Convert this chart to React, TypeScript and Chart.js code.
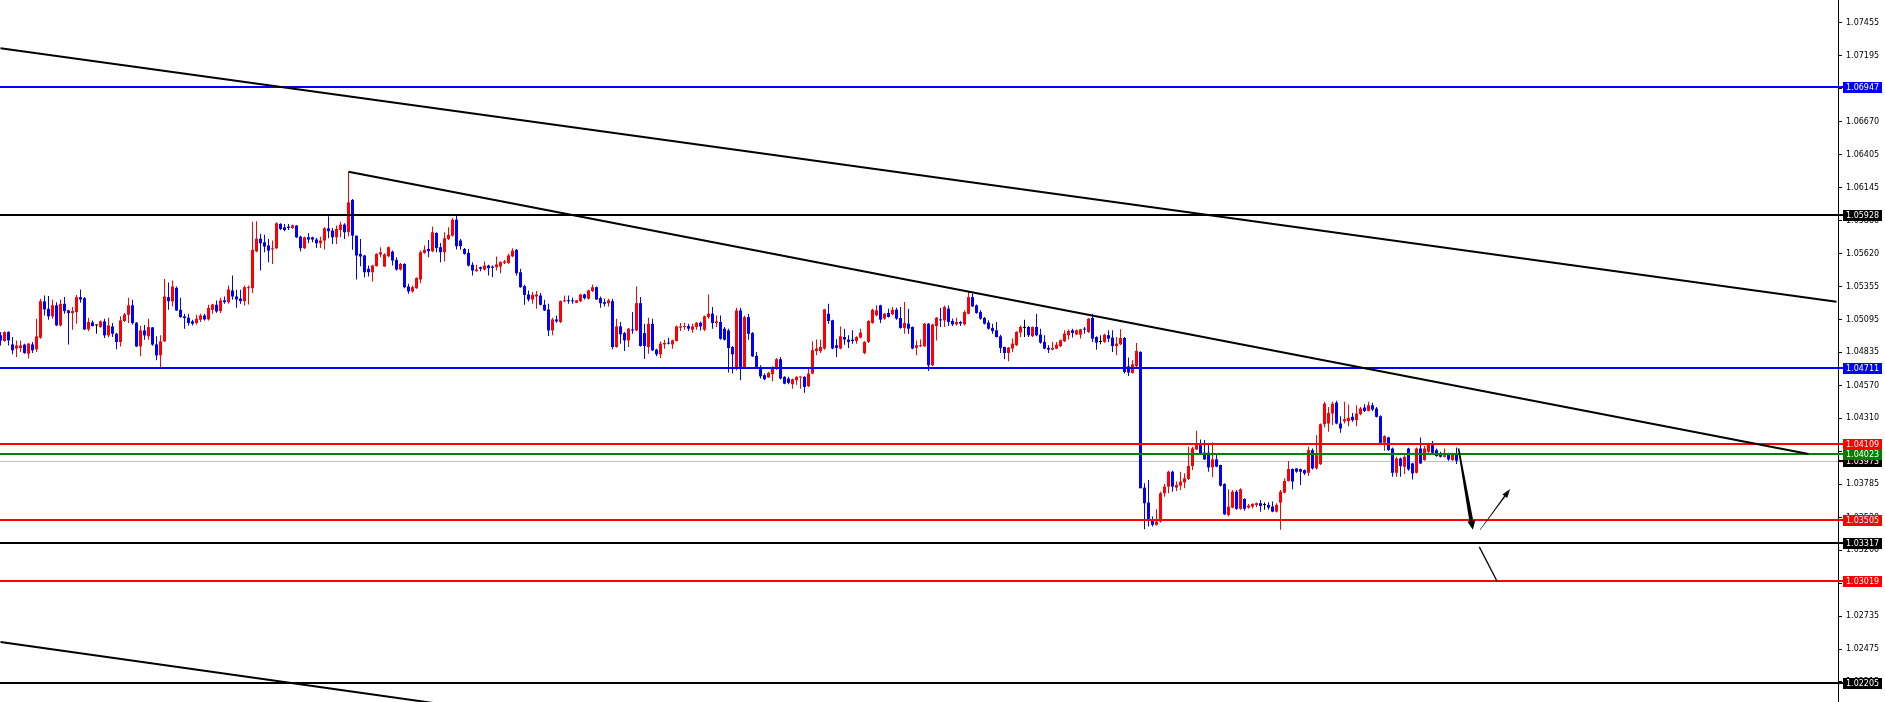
import React, { useEffect, useRef } from 'react';
import { Chart, registerables } from 'chart.js';

Chart.register(...registerables);

// ---- candle data (index 0..364) ----
const OPEN = [
  1.04970,1.04925,1.04996,1.04898,1.04864,1.04869,1.04896,1.04824,1.04898,1.04859,
  1.04951,1.05240,1.05181,1.05121,1.05209,1.05049,1.05221,1.05168,1.05147,1.05155,
  1.05274,1.05266,1.05017,1.05073,1.05049,1.05036,1.05081,1.04970,1.05041,1.04983,
  1.04917,1.05084,1.05134,1.05209,1.05070,1.04882,1.05009,1.04962,1.05033,1.04898,
  1.04811,1.04922,1.05274,1.05240,1.05348,1.05173,1.05121,1.05110,1.05081,1.05068,
  1.05094,1.05128,1.05097,1.05173,1.05213,1.05163,1.05248,1.05234,1.05327,1.05279,
  1.05263,1.05242,1.05345,1.05345,1.05639,1.05739,1.05710,1.05684,1.05655,1.05663,
  1.05856,1.05829,1.05835,1.05824,1.05843,1.05755,1.05663,1.05750,1.05750,1.05732,
  1.05702,1.05724,1.05821,1.05803,1.05750,1.05808,1.05851,1.05790,1.06047,1.05763,
  1.05618,1.05605,1.05499,1.05472,1.05520,1.05613,1.05517,1.05599,1.05636,1.05570,
  1.05493,1.05538,1.05359,1.05319,1.05345,1.05414,1.05626,1.05657,1.05639,1.05784,
  1.05671,1.05631,1.05737,1.05763,1.05890,1.05724,1.05657,1.05626,1.05531,1.05480,
  1.05512,1.05493,1.05525,1.05517,1.05512,1.05517,1.05544,1.05546,1.05599,1.05650,
  1.05472,1.05361,1.05295,1.05255,1.05279,1.05287,1.05213,1.05176,1.05009,1.05097,
  1.05076,1.05240,1.05248,1.05248,1.05229,1.05242,1.05295,1.05261,1.05322,1.05353,
  1.05266,1.05234,1.05226,1.05242,1.04877,1.05041,1.04988,1.04930,1.05017,1.05009,
  1.05226,1.04988,1.04877,1.05062,1.04856,1.04819,1.04898,1.04909,1.04898,1.04925,
  1.05031,1.05036,1.05044,1.05015,1.05036,1.05070,1.05015,1.05115,1.05142,1.05068,
  1.05076,1.05023,1.05009,1.04877,1.04705,1.05168,1.04719,1.05115,1.04988,1.04806,
  1.04719,1.04653,1.04635,1.04661,1.04705,1.04780,1.04640,1.04627,1.04581,1.04613,
  1.04635,1.04640,1.04566,1.04666,1.04846,1.04844,1.04865,1.05142,1.05090,1.04891,
  1.04865,1.04957,1.04936,1.04936,1.04925,1.04952,1.04830,1.04918,1.05068,1.05129,
  1.05209,1.05103,1.05148,1.05137,1.05174,1.05108,1.05029,1.05063,1.05037,1.04870,
  1.04883,1.04883,1.05063,1.04732,1.05044,1.05095,1.05089,1.05182,1.05084,1.05057,
  1.05076,1.05057,1.05142,1.05274,1.05208,1.05155,1.05108,1.05071,1.05029,1.05010,
  1.04962,1.04878,1.04830,1.04865,1.04891,1.04992,1.05029,1.05037,1.04963,1.05037,
  1.04976,1.04918,1.04870,1.04857,1.04865,1.04883,1.04923,1.04971,1.05010,1.04978,
  1.04975,1.05023,1.04997,1.05108,1.04957,1.04918,1.04918,1.04971,1.04952,1.04885,
  1.04899,1.04949,1.04724,1.04671,1.04724,1.04838,1.03759,1.03640,1.03508,1.03463,
  1.03489,1.03714,1.03767,1.03886,1.03759,1.03775,1.03801,1.03828,1.03931,1.04063,
  1.04097,1.04037,1.04037,1.03920,1.03984,1.03939,1.03788,1.03542,1.03600,1.03727,
  1.03590,1.03669,1.03600,1.03608,1.03621,1.03635,1.03621,1.03621,1.03608,1.03568,
  1.03640,1.03719,1.03812,1.03907,1.03912,1.03906,1.03898,1.03877,1.04057,1.03912,
  1.03946,1.04263,1.04269,1.04348,1.04435,1.04269,1.04287,1.04287,1.04322,1.04295,
  1.04343,1.04396,1.04369,1.04414,1.04388,1.04327,1.04115,1.04158,1.04070,1.03877,
  1.03991,1.03925,1.04070,1.03951,1.03877,1.04070,1.03978,1.04044,1.04097,1.04057,
  1.04025,1.04004,1.04031,1.03978,1.04025,
];
const HIGH = [
  1.04996,1.05002,1.05002,1.04957,1.04930,1.04930,1.04904,1.04909,1.04917,1.05102,
  1.05261,1.05287,1.05282,1.05253,1.05234,1.05255,1.05274,1.05173,1.05195,1.05290,
  1.05335,1.05274,1.05110,1.05089,1.05057,1.05089,1.05102,1.05110,1.05068,1.04991,
  1.05121,1.05147,1.05269,1.05253,1.05076,1.05046,1.05052,1.05102,1.05036,1.04962,
  1.04970,1.05419,1.05390,1.05406,1.05359,1.05269,1.05142,1.05142,1.05094,1.05134,
  1.05142,1.05142,1.05213,1.05221,1.05248,1.05269,1.05279,1.05366,1.05446,1.05332,
  1.05332,1.05366,1.05366,1.05874,1.05877,1.05777,1.05771,1.05737,1.05724,1.05869,
  1.05861,1.05856,1.05856,1.05851,1.05848,1.05763,1.05755,1.05784,1.05755,1.05745,
  1.05755,1.05829,1.05917,1.05824,1.05843,1.05874,1.05861,1.06271,1.06055,1.05763,
  1.05737,1.05610,1.05525,1.05531,1.05623,1.05671,1.05623,1.05676,1.05644,1.05591,
  1.05546,1.05544,1.05380,1.05366,1.05433,1.05644,1.05684,1.05729,1.05835,1.05790,
  1.05705,1.05790,1.05829,1.05903,1.05922,1.05737,1.05665,1.05657,1.05552,1.05531,
  1.05517,1.05557,1.05531,1.05525,1.05597,1.05560,1.05570,1.05618,1.05663,1.05657,
  1.05499,1.05372,1.05327,1.05314,1.05322,1.05306,1.05253,1.05221,1.05110,1.05128,
  1.05248,1.05287,1.05287,1.05269,1.05250,1.05300,1.05300,1.05332,1.05374,1.05359,
  1.05279,1.05261,1.05261,1.05261,1.05102,1.05076,1.04996,1.05028,1.05155,1.05359,
  1.05274,1.05062,1.05110,1.05102,1.04864,1.04922,1.04935,1.04951,1.04935,1.05049,
  1.05068,1.05070,1.05062,1.05062,1.05076,1.05081,1.05128,1.05295,1.05195,1.05128,
  1.05128,1.05036,1.05023,1.04885,1.05189,1.05189,1.05128,1.05142,1.04996,1.04838,
  1.04732,1.04666,1.04680,1.04724,1.04790,1.04798,1.04645,1.04640,1.04627,1.04645,
  1.04642,1.04645,1.04705,1.04923,1.04936,1.04936,1.05182,1.05222,1.05095,1.04938,
  1.05041,1.05023,1.04971,1.05010,1.04963,1.05023,1.04923,1.05090,1.05182,1.05209,
  1.05214,1.05148,1.05182,1.05195,1.05190,1.05195,1.05235,1.05182,1.05041,1.04930,
  1.04936,1.05068,1.05068,1.05063,1.05116,1.05187,1.05208,1.05208,1.05103,1.05110,
  1.05084,1.05169,1.05322,1.05301,1.05216,1.05169,1.05116,1.05090,1.05063,1.05076,
  1.04975,1.04880,1.04878,1.04944,1.05002,1.05049,1.05094,1.05044,1.05041,1.05142,
  1.05023,1.04971,1.04891,1.04918,1.04918,1.04936,1.05010,1.05016,1.05023,1.05016,
  1.05023,1.05037,1.05108,1.05142,1.04963,1.04971,1.04983,1.05010,1.05010,1.04957,
  1.05018,1.04957,1.04793,1.04772,1.04909,1.04843,1.03793,1.03820,1.03529,1.03587,
  1.03727,1.03788,1.03894,1.03894,1.03807,1.03886,1.03873,1.04084,1.04084,1.04211,
  1.04142,1.04137,1.04097,1.04119,1.04031,1.03941,1.03793,1.03746,1.03740,1.03740,
  1.03754,1.03674,1.03629,1.03635,1.03640,1.03661,1.03640,1.03643,1.03648,1.03635,
  1.03740,1.03833,1.03971,1.03912,1.03912,1.03912,1.03904,1.04084,1.04070,1.04176,
  1.04269,1.04441,1.04401,1.04441,1.04449,1.04327,1.04441,1.04420,1.04353,1.04414,
  1.04401,1.04422,1.04441,1.04433,1.04401,1.04335,1.04176,1.04163,1.04078,1.04004,
  1.03999,1.04017,1.04076,1.03957,1.04078,1.04158,1.04089,1.04115,1.04129,1.04070,
  1.04044,1.04070,1.04036,1.04036,1.04078,
];
const LOW = [
  1.04890,1.04920,1.04890,1.04819,1.04798,1.04838,1.04824,1.04785,1.04830,1.04838,
  1.04943,1.05128,1.05094,1.05102,1.05044,1.05041,1.05142,1.04898,1.05015,1.05062,
  1.05229,1.05012,1.05002,1.05041,1.04983,1.05031,1.04949,1.04957,1.04957,1.04859,
  1.04882,1.05076,1.05068,1.05057,1.04877,1.04803,1.04935,1.04935,1.04888,1.04771,
  1.04719,1.04917,1.05173,1.05200,1.05163,1.05110,1.05023,1.05049,1.05049,1.05057,
  1.05076,1.05089,1.05089,1.05142,1.05150,1.05147,1.05221,1.05221,1.05253,1.05189,
  1.05221,1.05208,1.05216,1.05306,1.05631,1.05486,1.05631,1.05552,1.05538,1.05657,
  1.05808,1.05798,1.05808,1.05816,1.05745,1.05636,1.05657,1.05702,1.05710,1.05665,
  1.05665,1.05652,1.05742,1.05697,1.05697,1.05750,1.05737,1.05756,1.05650,1.05414,
  1.05520,1.05433,1.05438,1.05398,1.05517,1.05591,1.05515,1.05591,1.05525,1.05486,
  1.05486,1.05345,1.05300,1.05308,1.05340,1.05385,1.05618,1.05591,1.05631,1.05631,
  1.05552,1.05557,1.05729,1.05755,1.05652,1.05650,1.05610,1.05517,1.05446,1.05478,
  1.05480,1.05486,1.05446,1.05433,1.05486,1.05464,1.05538,1.05538,1.05591,1.05446,
  1.05348,1.05213,1.05240,1.05221,1.05181,1.05208,1.05163,1.04965,1.04970,1.05070,
  1.05068,1.05234,1.05221,1.05221,1.05227,1.05234,1.05255,1.05255,1.05314,1.05253,
  1.05189,1.05200,1.05200,1.04859,1.04872,1.04904,1.04845,1.04877,1.04983,1.05002,
  1.04882,1.04782,1.04824,1.04845,1.04803,1.04790,1.04864,1.04898,1.04864,1.04922,
  1.05004,1.05015,1.05004,1.04991,1.05015,1.05009,1.05004,1.05102,1.05023,1.05036,
  1.04935,1.04930,1.04674,1.04666,1.04692,1.04613,1.04705,1.04935,1.04798,1.04705,
  1.04626,1.04612,1.04632,1.04605,1.04697,1.04619,1.04581,1.04581,1.04546,1.04578,
  1.04546,1.04513,1.04560,1.04661,1.04812,1.04830,1.04856,1.05063,1.04859,1.04798,
  1.04859,1.04896,1.04870,1.04904,1.04904,1.04944,1.04819,1.04910,1.05063,1.05121,
  1.05068,1.05095,1.05111,1.05129,1.05095,1.05023,1.04983,1.04983,1.04859,1.04812,
  1.04878,1.04878,1.04687,1.04727,1.04930,1.05037,1.05037,1.05044,1.05044,1.05049,
  1.05044,1.05049,1.05137,1.05195,1.05142,1.05095,1.05057,1.05015,1.04983,1.04952,
  1.04830,1.04780,1.04764,1.04838,1.04885,1.04957,1.04957,1.04957,1.04957,1.04963,
  1.04904,1.04859,1.04830,1.04852,1.04859,1.04878,1.04918,1.04936,1.04952,1.04971,
  1.04944,1.04983,1.04989,1.04918,1.04856,1.04899,1.04910,1.04918,1.04838,1.04811,
  1.04891,1.04666,1.04647,1.04666,1.04713,1.03754,1.03428,1.03449,1.03449,1.03457,
  1.03481,1.03687,1.03714,1.03727,1.03732,1.03740,1.03754,1.03820,1.03899,1.04058,
  1.04026,1.03978,1.03886,1.03841,1.03920,1.03767,1.03542,1.03529,1.03595,1.03582,
  1.03582,1.03576,1.03590,1.03595,1.03603,1.03568,1.03582,1.03582,1.03563,1.03561,
  1.03423,1.03714,1.03807,1.03746,1.03878,1.03779,1.03859,1.03851,1.03904,1.03904,
  1.03938,1.04237,1.04203,1.04256,1.04263,1.04195,1.04269,1.04248,1.04282,1.04248,
  1.04335,1.04361,1.04367,1.04369,1.04316,1.04105,1.04052,1.04052,1.03846,1.03846,
  1.03846,1.03867,1.03893,1.03824,1.03872,1.03946,1.03973,1.04031,1.04025,1.04004,
  1.03999,1.03999,1.03973,1.03973,1.03946,
];
const CLOSE = [
  1.04930,1.04996,1.04930,1.04851,1.04890,1.04890,1.04830,1.04904,1.04851,1.04962,
  1.05242,1.05176,1.05121,1.05209,1.05049,1.05221,1.05163,1.05147,1.05163,1.05274,
  1.05255,1.05017,1.05076,1.05044,1.05049,1.05081,1.04970,1.05049,1.04983,1.04917,
  1.05089,1.05136,1.05209,1.05068,1.04882,1.05009,1.04970,1.05036,1.04896,1.04811,
  1.04922,1.05279,1.05242,1.05359,1.05168,1.05115,1.05107,1.05068,1.05062,1.05102,
  1.05128,1.05097,1.05187,1.05216,1.05160,1.05248,1.05234,1.05335,1.05279,1.05255,
  1.05242,1.05353,1.05353,1.05650,1.05739,1.05702,1.05676,1.05644,1.05663,1.05861,
  1.05816,1.05808,1.05824,1.05845,1.05750,1.05663,1.05750,1.05732,1.05732,1.05702,
  1.05724,1.05821,1.05798,1.05750,1.05816,1.05851,1.05790,1.06028,1.05763,1.05605,
  1.05597,1.05472,1.05472,1.05525,1.05618,1.05631,1.05613,1.05671,1.05565,1.05493,
  1.05538,1.05353,1.05319,1.05353,1.05425,1.05631,1.05650,1.05639,1.05790,1.05665,
  1.05631,1.05742,1.05769,1.05890,1.05679,1.05679,1.05618,1.05525,1.05486,1.05493,
  1.05499,1.05525,1.05504,1.05507,1.05533,1.05552,1.05557,1.05605,1.05644,1.05464,
  1.05353,1.05292,1.05255,1.05292,1.05295,1.05213,1.05168,1.05009,1.05097,1.05081,
  1.05242,1.05248,1.05242,1.05240,1.05248,1.05295,1.05266,1.05327,1.05353,1.05255,
  1.05226,1.05221,1.05248,1.04877,1.05041,1.04978,1.04930,1.05023,1.05009,1.05226,
  1.04885,1.04885,1.05062,1.04851,1.04819,1.04904,1.04909,1.04904,1.04930,1.05041,
  1.05041,1.05041,1.05023,1.05041,1.05070,1.05041,1.05121,1.05142,1.05068,1.05081,
  1.04943,1.04935,1.04869,1.04819,1.05168,1.04719,1.05115,1.04983,1.04803,1.04719,
  1.04644,1.04621,1.04671,1.04713,1.04780,1.04627,1.04586,1.04592,1.04621,1.04640,
  1.04640,1.04560,1.04666,1.04852,1.04865,1.04878,1.05176,1.05084,1.04865,1.04870,
  1.04963,1.04936,1.04918,1.04925,1.04957,1.04992,1.04918,1.05084,1.05174,1.05169,
  1.05095,1.05142,1.05116,1.05174,1.05103,1.05029,1.05068,1.05023,1.04865,1.04891,
  1.04891,1.05063,1.04732,1.05055,1.05110,1.05089,1.05195,1.05076,1.05057,1.05076,
  1.05063,1.05155,1.05274,1.05200,1.05148,1.05103,1.05063,1.05023,1.05005,1.04957,
  1.04870,1.04830,1.04872,1.04904,1.04997,1.05037,1.05029,1.04971,1.05037,1.04971,
  1.04912,1.04865,1.04857,1.04870,1.04896,1.04931,1.04984,1.05005,1.04989,1.05010,
  1.05018,1.05016,1.05102,1.04944,1.04912,1.04918,1.04975,1.04944,1.04885,1.04904,
  1.04949,1.04679,1.04674,1.04740,1.04846,1.03754,1.03635,1.03508,1.03463,1.03489,
  1.03714,1.03767,1.03886,1.03767,1.03780,1.03807,1.03833,1.03931,1.04071,1.04097,
  1.04031,1.03984,1.03920,1.03984,1.03926,1.03775,1.03547,1.03608,1.03727,1.03590,
  1.03746,1.03590,1.03616,1.03629,1.03635,1.03613,1.03621,1.03600,1.03568,1.03621,
  1.03727,1.03812,1.03907,1.03807,1.03886,1.03885,1.03872,1.04057,1.03912,1.04017,
  1.04263,1.04427,1.04353,1.04427,1.04269,1.04229,1.04303,1.04314,1.04295,1.04348,
  1.04388,1.04369,1.04414,1.04380,1.04322,1.04115,1.04168,1.04057,1.03877,1.03991,
  1.03930,1.04004,1.03904,1.03872,1.04070,1.03951,1.04070,1.04105,1.04036,1.04010,
  1.04004,1.04017,1.03983,1.04025,1.03973,
];

// ---- axis ----
const Y_TICKS = [
  1.07455, 1.07195, 1.06935, 1.0667, 1.06405, 1.06145, 1.0588, 1.0562, 1.05355,
  1.05095, 1.04835, 1.0457, 1.0431, 1.04045, 1.03785, 1.0352, 1.0326, 1.03,
  1.02735, 1.02475, 1.02215,
];
const Y_MIN = 1.02054;
const Y_MAX = 1.07637;
const X_MIN = -0.125;
const X_MAX = 459.375;

// ---- horizontal levels ----
const LEVELS = [1.06947, 1.05928, 1.04711, 1.04109, 1.04023, 1.03505, 1.03317, 1.03019, 1.02205];
const LEVEL_COLORS = ['#0000ff', '#000000', '#0000ff', '#ff0000', '#008000', '#ff0000', '#000000', '#ff0000', '#000000'];
const CURRENT_PRICE = 1.03973;

// ---- drawn objects: [candle index, price] pairs ----
const TREND_LINES = [
  [[0, 1.07254], [459, 1.05238]],
  [[87, 1.06271], [452, 1.04027]],
  [[0, 1.02531], [120, 1.01993]],
];
const ARROW_DOWN = [[364.5, 1.04071], [368.1, 1.03423]];
const ARROW_UP = [[369.9, 1.03423], [377.4, 1.03748]];
const PROJ_LINE = [[369.7, 1.03288], [374.2, 1.0301]];

const FONT = '8px "DejaVu Sans", sans-serif';

function candleColor(i: number) {
  if (CLOSE[i] > OPEN[i]) return '#ff0000';
  if (CLOSE[i] < OPEN[i]) return '#0000ff';
  return '#000000';
}

function arrowShape(ctx: CanvasRenderingContext2D, x1: number, y1: number, x2: number, y2: number,
  w1: number, w2: number, headLen: number, headW: number) {
  const dx = x2 - x1, dy = y2 - y1;
  const len = Math.hypot(dx, dy);
  const ux = dx / len, uy = dy / len;
  const nx = -uy, ny = ux;
  const bx = x2 - ux * headLen, by = y2 - uy * headLen;
  ctx.beginPath();
  ctx.moveTo(x1 + nx * w1 / 2, y1 + ny * w1 / 2);
  ctx.lineTo(bx + nx * w2 / 2, by + ny * w2 / 2);
  ctx.lineTo(bx + nx * headW / 2, by + ny * headW / 2);
  ctx.lineTo(x2, y2);
  ctx.lineTo(bx - nx * headW / 2, by - ny * headW / 2);
  ctx.lineTo(bx - nx * w2 / 2, by - ny * w2 / 2);
  ctx.lineTo(x1 - nx * w1 / 2, y1 - ny * w1 / 2);
  ctx.closePath();
  ctx.fill();
}

const objectsPlugin = {
  id: 'mtObjects',
  beforeDatasetsDraw(chart: any) {
    const { ctx, chartArea, scales } = chart;
    const y = Math.round(scales.y.getPixelForValue(CURRENT_PRICE)) + 0.5;
    ctx.save();
    ctx.strokeStyle = '#c0c0c0';
    ctx.lineWidth = 1;
    ctx.beginPath();
    ctx.moveTo(chartArea.left, y);
    ctx.lineTo(chartArea.right, y);
    ctx.stroke();
    ctx.restore();
  },
  afterDatasetsDraw(chart: any) {
    const { ctx, chartArea, scales } = chart;
    const X = (v: number) => scales.x.getPixelForValue(v);
    const Y = (v: number) => scales.y.getPixelForValue(v);
    ctx.save();
    ctx.beginPath();
    ctx.rect(chartArea.left, chartArea.top, chartArea.right - chartArea.left, chartArea.bottom - chartArea.top);
    ctx.clip();
    LEVELS.forEach((lv, k) => {
      const y = Math.round(Y(lv));
      ctx.strokeStyle = LEVEL_COLORS[k];
      ctx.lineWidth = 2;
      ctx.beginPath();
      ctx.moveTo(chartArea.left, y);
      ctx.lineTo(chartArea.right, y);
      ctx.stroke();
    });
    ctx.strokeStyle = '#000000';
    ctx.lineWidth = 2;
    TREND_LINES.forEach(([a, b]) => {
      ctx.beginPath();
      ctx.moveTo(X(a[0]), Y(a[1]));
      ctx.lineTo(X(b[0]), Y(b[1]));
      ctx.stroke();
    });
    ctx.fillStyle = '#000000';
    arrowShape(ctx, X(ARROW_DOWN[0][0]), Y(ARROW_DOWN[0][1]), X(ARROW_DOWN[1][0]), Y(ARROW_DOWN[1][1]), 1.5, 4, 9, 8);
    ctx.fillStyle = '#111111';
    arrowShape(ctx, X(ARROW_UP[0][0]), Y(ARROW_UP[0][1]), X(ARROW_UP[1][0]), Y(ARROW_UP[1][1]), 0.6, 1.5, 9, 6);
    ctx.strokeStyle = '#111111';
    ctx.lineWidth = 1.4;
    ctx.beginPath();
    ctx.moveTo(X(PROJ_LINE[0][0]), Y(PROJ_LINE[0][1]));
    ctx.lineTo(X(PROJ_LINE[1][0]), Y(PROJ_LINE[1][1]));
    ctx.stroke();
    ctx.restore();
  },
  afterDraw(chart: any) {
    const { ctx, chartArea, scales } = chart;
    const Y = (v: number) => scales.y.getPixelForValue(v);
    const box = (price: number, color: string) => {
      const y = Math.round(Y(price));
      ctx.strokeStyle = color;
      ctx.lineWidth = 2;
      ctx.beginPath();
      ctx.moveTo(chartArea.right, y);
      ctx.lineTo(chartArea.right + 5, y);
      ctx.stroke();
      ctx.fillStyle = color;
      ctx.fillRect(chartArea.right + 5, y - 5, 39, 11);
      ctx.fillStyle = '#ffffff';
      ctx.font = FONT;
      ctx.textAlign = 'left';
      ctx.textBaseline = 'middle';
      ctx.fillText(price.toFixed(5), chartArea.right + 8, y + 0.5);
    };
    ctx.save();
    box(CURRENT_PRICE, '#000000');
    LEVELS.forEach((lv, k) => box(lv, LEVEL_COLORS[k]));
    ctx.restore();
  },
};

export default function App() {
  const ref = useRef<HTMLCanvasElement>(null);
  useEffect(() => {
    document.body.style.margin = '0';
    const idx = OPEN.map((_, i) => i);
    const colors = idx.map(candleColor);
    const chart = new Chart(ref.current as HTMLCanvasElement, {
      type: 'bar',
      data: {
        datasets: [
          {
            label: 'body',
            data: idx.map((i) => ({ x: i, y: [OPEN[i], CLOSE[i]] })) as any,
            backgroundColor: colors,
            borderWidth: 0,
            barThickness: 3,
            minBarLength: 1,
            grouped: false,
            inflateAmount: 0,
          } as any,
          {
            label: 'wick',
            data: idx.map((i) => ({ x: i, y: [LOW[i], HIGH[i]] })) as any,
            backgroundColor: colors,
            borderWidth: 0,
            barThickness: 1,
            minBarLength: 1,
            grouped: false,
            inflateAmount: 0,
          } as any,
        ],
      },
      options: {
        animation: false,
        responsive: false,
        devicePixelRatio: 1,
        layout: { padding: 0 },
        plugins: { legend: { display: false }, tooltip: { enabled: false } },
        scales: {
          x: {
            type: 'linear',
            display: false,
            offset: false,
            min: X_MIN,
            max: X_MAX,
          },
          y: {
            type: 'linear',
            position: 'right',
            min: Y_MIN,
            max: Y_MAX,
            grid: { display: true, drawOnChartArea: false, drawTicks: true, tickLength: 4, color: '#000000' },
            border: { display: true, color: '#000000', width: 1 },
            ticks: {
              autoSkip: false,
              padding: 4,
              color: '#000000',
              font: { family: '"DejaVu Sans", sans-serif', size: 8 },
              callback: (v: any) => Number(v).toFixed(5),
            },
            afterBuildTicks: (scale: any) => {
              scale.ticks = Y_TICKS.map((v) => ({ value: v }));
            },
            afterFit: (scale: any) => {
              scale.width = 47;
              scale.paddingTop = 0;
              scale.paddingBottom = 0;
            },
          } as any,
        },
      },
      plugins: [objectsPlugin],
    });
    return () => chart.destroy();
  }, []);
  return (
    <div style={{ width: 1885, height: 702, background: '#ffffff' }}>
      <canvas ref={ref} width={1885} height={702} style={{ display: 'block' }} />
    </div>
  );
}
